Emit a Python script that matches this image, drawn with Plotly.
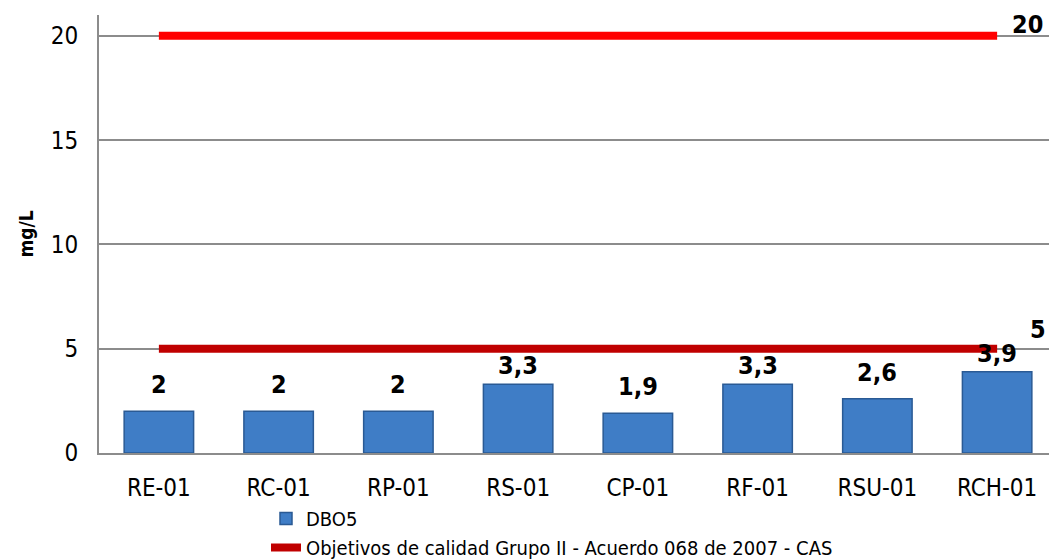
import plotly.graph_objects as go

categories = ["RE-01", "RC-01", "RP-01", "RS-01", "CP-01", "RF-01", "RSU-01", "RCH-01"]
dbo5 = [2, 2, 2, 3.3, 1.9, 3.3, 2.6, 3.9]
objetivo_alto = [20, 20, 20, 20, 20, 20, 20, 20]
objetivo_bajo = [5, 5, 5, 5, 5, 5, 5, 5]
yticks = [0, 5, 10, 15, 20]

FONT = "DejaVu Sans Condensed, Liberation Sans Narrow, Arial Narrow, sans-serif"

# The page adds an 8px body margin, so the figure is drawn 8px smaller.
W, H = 1049, 552
L, R, T, B = 91, 0, 7, 107
PW, PH = W - L - R, H - T - B

def fmt(v):
    s = ("%g" % v)
    return s.replace(".", ",")

fig = go.Figure()
fig.add_trace(go.Bar(
    x=categories, y=dbo5, name="DBO5",
    marker=dict(color="#3F7DC6", line=dict(color="#2A5A94", width=1.5)),
    width=0.58,
))
fig.add_trace(go.Scatter(
    x=categories, y=objetivo_alto, mode="lines", showlegend=False,
    line=dict(color="#FF0000", width=8),
))
fig.add_trace(go.Scatter(
    x=categories, y=objetivo_bajo, mode="lines",
    name="Objetivos de calidad Grupo II - Acuerdo 068 de 2007 - CAS",
    line=dict(color="#C00000", width=8),
))

annotations = []
for c, v in zip(categories, dbo5):
    annotations.append(dict(
        x=c, y=v, text=fmt(v), showarrow=False, yanchor="bottom",
        yshift=10 if v < 3 else 2,
        font=dict(family=FONT, size=25, color="black", weight="bold"),
    ))
annotations.append(dict(
    x=categories[-1], y=objetivo_alto[-1], text=fmt(objetivo_alto[-1]), showarrow=False,
    xanchor="center", yanchor="middle", xshift=30, yshift=11,
    font=dict(family=FONT, size=25, color="black", weight="bold"),
))
annotations.append(dict(
    x=categories[-1], y=objetivo_bajo[-1], text=fmt(objetivo_bajo[-1]), showarrow=False,
    xanchor="center", yanchor="middle", xshift=41, yshift=19,
    font=dict(family=FONT, size=25, color="black", weight="bold"),
))

fig.update_layout(
    width=W, height=H,
    margin=dict(l=L, r=R, t=T, b=B, autoexpand=False),
    paper_bgcolor="white", plot_bgcolor="white",
    font=dict(family=FONT, size=24, color="black"),
    bargap=0.42,
    showlegend=True,
    legend=dict(
        x=(258 - L) / PW, y=(H - B - 491) / PH,
        xanchor="left", yanchor="top",
        orientation="v", font=dict(family=FONT, size=20, color="black"),
        bgcolor="rgba(0,0,0,0)", tracegroupgap=0,
    ),
    xaxis=dict(
        showline=True, linecolor="#8C8C8C", linewidth=2,
        ticks="", showgrid=False, tickfont=dict(size=24), ticklabelstandoff=12,
    ),
    yaxis=dict(
        range=[0, 21], tickvals=yticks, showgrid=True, gridcolor="#8C8C8C", gridwidth=1.5,
        showline=True, linecolor="#8C8C8C", linewidth=2, zeroline=False,
        ticks="", tickfont=dict(size=24), ticklabelstandoff=14,
        title=dict(text="<b>mg/L</b>", font=dict(size=19), standoff=12),
    ),
    annotations=annotations,
)

fig.write_html("out.html")
